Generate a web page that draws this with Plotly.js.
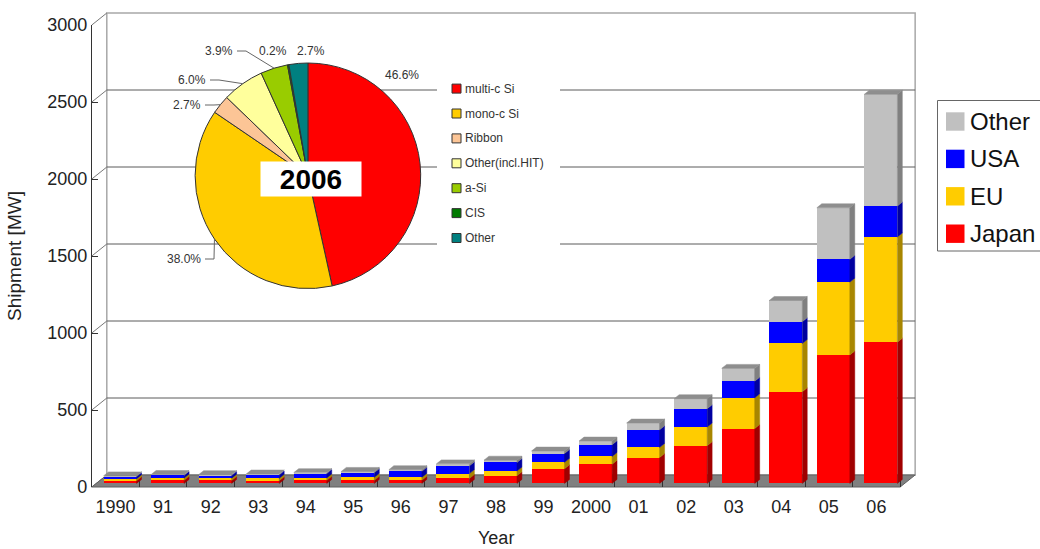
<!DOCTYPE html>
<html><head><meta charset="utf-8">
<script src="https://cdn.plot.ly/plotly-3.0.1.min.js"></script>
<style>html,body{margin:0;padding:0;background:#fff}#chart{width:1040px;height:549px}</style>
</head><body><div id="chart"></div>
<script>
// ---------------- data ----------------
const years = ["1990","91","92","93","94","95","96","97","98","99","2000","01","02","03","04","05","06"];
const japan = [18, 20, 19, 18, 20, 20, 21, 32, 50, 95, 125, 168, 245, 356, 595, 834, 917];
const eu    = [12, 15, 15, 15, 16, 20, 19, 32, 30, 42, 50, 66, 121, 200, 314, 473, 683];
const usa   = [14, 17, 17, 22, 28, 30, 39, 50, 56, 57, 76, 114, 119, 108, 141, 148, 201];
const other = [5, 6, 6, 6, 6, 8, 10, 13, 15, 16, 24, 44, 65, 83, 138, 335, 726];
const seriesNames = ["Japan", "EU", "USA", "Other"];
const yTicks = [0, 500, 1000, 1500, 2000, 2500, 3000];
const xTitle = "Year";
const yTitle = "Shipment [MW]";

const pieYear = "2006";
const pieLabels = ["multi-c Si", "mono-c Si", "Ribbon", "Other(incl.HIT)", "a-Si", "CIS", "Other"];
const pieValues = [46.6, 38.0, 2.7, 6.0, 3.9, 0.2, 2.7];

// ---------------- styles ----------------
const FONT = "Liberation Sans, Arial, sans-serif";
const seriesColors = ["#ff0000", "#ffcc00", "#0000ff", "#c0c0c0"];
const sideColors = ["#a00000", "#a88600", "#0000a0", "#808080"];
const topColor = "#8e8e8e";
const pieColors = ["#ff0000", "#ffcc00", "#fcc596", "#ffff9c", "#99cc00", "#007a00", "#008080"];

// ---------------- geometry (pixels) ----------------
const W = 1040, H = 549;
const X0 = 91.8, CW = 47.55, Y0 = 487, YTOP = 25;
const YMAX = 3000, YS = (Y0 - YTOP) / YMAX;
const XMAX = 16.9;
const DX = 15, DY = 12;           // depth of the 3D floor / wall
const PX = x => x / W, PY = y => 1 - y / H;
const n = years.length;
const xpx = u => X0 + (u + 0.5) * CW;
const ypx = v => Y0 - v * YS;

const f0 = 0.3, f1 = 0.63;
const xs = f0 * DX / CW, ysh = f0 * DY / YS;
const ddx = (f1 - f0) * DX / CW, ddy = (f1 - f0) * DY / YS;
const bw = 0.694;

// ---------------- traces ----------------
const series = [japan, eu, usa, other];
const traces = [];
const sideTraces = [];
const cum = new Array(n).fill(0);
const idx = years.map((_, i) => i);
series.forEach((vals, s) => {
  const base = cum.map(c => c + ysh);
  traces.push({
    type: 'bar', x: idx.map(i => i + xs), y: vals, base: base, width: bw,
    marker: {color: seriesColors[s], line: {width: 0}},
    name: seriesNames[s], showlegend: false, hoverinfo: 'skip'
  });
  const sx = [], sy = [];
  vals.forEach((v, i) => {
    const xr = i + xs + bw / 2, b = base[i], t = b + v;
    sx.push(xr, xr + ddx, xr + ddx, xr, xr, null);
    sy.push(b, b + ddy, t + ddy, t, b, null);
  });
  sideTraces.push({
    type: 'scatter', mode: 'lines', x: sx, y: sy, fill: 'toself',
    fillcolor: sideColors[s], line: {width: 0.5, color: sideColors[s]},
    showlegend: false, hoverinfo: 'skip'
  });
  vals.forEach((v, i) => { cum[i] += v; });
});
const tx = [], ty = [];
cum.forEach((c, i) => {
  const T = c + ysh, xl = i + xs - bw / 2, xr = i + xs + bw / 2;
  tx.push(xl, xr, xr + ddx, xl + ddx, xl, null);
  ty.push(T, T, T + ddy, T + ddy, T, null);
});
sideTraces.push({
  type: 'scatter', mode: 'lines', x: tx, y: ty, fill: 'toself',
  fillcolor: topColor, line: {width: 0.5, color: topColor},
  showlegend: false, hoverinfo: 'skip'
});

// pie
const PCX = 307.9, PCY = 175.8, PR = 112.8;
traces.push({
  type: 'pie', labels: pieLabels, values: pieValues, sort: false,
  direction: 'clockwise', rotation: 0, textinfo: 'none', hoverinfo: 'skip',
  marker: {colors: pieColors, line: {color: '#333', width: 1}},
  domain: {x: [PX(PCX - PR), PX(PCX + PR)], y: [PY(PCY + PR), PY(PCY - PR)]},
  showlegend: false
});

const data = traces.concat(sideTraces);

// ---------------- decorations ----------------
const shapes = [];
const annotations = [];
const xL = X0, xR = xpx(16.5);
// back wall
shapes.push({type: 'rect', xref: 'paper', yref: 'paper', layer: 'below',
  x0: PX(xL + DX), x1: PX(xR + DX), y0: PY(Y0 - DY), y1: PY(ypx(YMAX) - DY),
  line: {color: '#a8a8a8', width: 1.5}, fillcolor: 'rgba(0,0,0,0)'});
yTicks.forEach(v => {
  if (v > 0 && v < YMAX) {
    shapes.push({type: 'line', xref: 'paper', yref: 'paper', layer: 'below',
      x0: PX(xL + DX), x1: PX(xR + DX), y0: PY(ypx(v) - DY), y1: PY(ypx(v) - DY),
      line: {color: '#5a5a5a', width: 1}});
  }
  shapes.push({type: 'line', xref: 'paper', yref: 'paper', layer: 'below',
    x0: PX(xL), x1: PX(xL + DX), y0: PY(ypx(v)), y1: PY(ypx(v) - DY),
    line: {color: '#777', width: 1}});
});
// floor
shapes.push({type: 'path', xref: 'paper', yref: 'paper', layer: 'below',
  path: `M${PX(xL)},${PY(Y0)} L${PX(xR)},${PY(Y0)} L${PX(xR + DX)},${PY(Y0 - DY)} L${PX(xL + DX)},${PY(Y0 - DY)} Z`,
  fillcolor: '#808080', line: {color: '#606060', width: 1}});

// pie labels with leader lines
const tot = pieValues.reduce((a, b) => a + b, 0);
let acc = 0;
const midPts = pieValues.map(v => {
  const a = (acc + v / 2) / tot * 2 * Math.PI; acc += v;
  return [PCX + PR * Math.sin(a), PCY - PR * Math.cos(a)];
});
const pieLabelPos = [
  {x: 383, y: 75, anchor: 'left', leader: false},
  {x: 203, y: 259, anchor: 'right', leader: true},
  {x: 203, y: 105, anchor: 'right', leader: true},
  {x: 208, y: 80, anchor: 'right', leader: true},
  {x: 235, y: 51, anchor: 'right', leader: true},
  {x: 257, y: 51, anchor: 'left', leader: false},
  {x: 295, y: 51, anchor: 'left', leader: false}
];
pieValues.forEach((v, k) => {
  const p = pieLabelPos[k];
  annotations.push({xref: 'paper', yref: 'paper', x: PX(p.x), y: PY(p.y), xanchor: p.anchor, yanchor: 'middle',
    text: v.toFixed(1) + '%', showarrow: false, font: {family: FONT, size: 12, color: '#333'}});
  if (p.leader) {
    const m = midPts[k];
    const ex = p.x + 11;
    shapes.push({type: 'path', xref: 'paper', yref: 'paper', layer: 'above',
      path: `M${PX(p.x + 2)},${PY(p.y)} L${PX(ex)},${PY(p.y)} L${PX(m[0])},${PY(m[1])}`,
      line: {color: '#666', width: 1}});
  }
});
// year box
annotations.push({xref: 'paper', yref: 'paper', x: PX(311), y: PY(178.5), xanchor: 'center', yanchor: 'middle',
  text: '<b>' + pieYear + '</b>', showarrow: false, bgcolor: '#fff', width: 98, height: 32,
  font: {family: FONT, size: 28, color: '#000'}});

// pie legend
shapes.push({type: 'rect', xref: 'paper', yref: 'paper', layer: 'below',
  x0: PX(437), x1: PX(560), y0: PY(252), y1: PY(72), line: {width: 0}, fillcolor: '#fff'});
pieLabels.forEach((lab, k) => {
  const cy = 88.6 + 24.9 * k;
  shapes.push({type: 'rect', xref: 'paper', yref: 'paper', layer: 'above',
    x0: PX(452), x1: PX(461), y0: PY(cy + 4.5), y1: PY(cy - 4.5),
    fillcolor: pieColors[k], line: {color: '#333', width: 1}});
  annotations.push({xref: 'paper', yref: 'paper', x: PX(463), y: PY(cy), xanchor: 'left', yanchor: 'middle',
    text: lab, showarrow: false, font: {family: FONT, size: 12, color: '#333'}});
});

// main legend
shapes.push({type: 'rect', xref: 'paper', yref: 'paper', layer: 'below',
  x0: PX(937.5), x1: PX(1060), y0: PY(251), y1: PY(100.5), line: {color: '#666', width: 1}, fillcolor: '#fff'});
[3, 2, 1, 0].forEach((s, k) => {
  const cy = 121.5 + 37.4 * k;
  shapes.push({type: 'rect', xref: 'paper', yref: 'paper', layer: 'above',
    x0: PX(946), x1: PX(964.5), y0: PY(cy + 9.2), y1: PY(cy - 9.2),
    fillcolor: seriesColors[s], line: {width: 0}});
  annotations.push({xref: 'paper', yref: 'paper', x: PX(968), y: PY(cy), xanchor: 'left', yanchor: 'middle',
    text: seriesNames[s], showarrow: false, font: {family: FONT, size: 24, color: '#111'}});
});

// x title
annotations.push({xref: 'paper', yref: 'paper', x: PX((xL + xR) / 2), y: PY(548.5), xanchor: 'center', yanchor: 'bottom',
  text: xTitle, showarrow: false, borderpad: 0, font: {family: FONT, size: 18, color: '#222'}});

const layout = {
  width: W, height: H,
  margin: {l: 0, r: 0, t: 0, b: 0},
  paper_bgcolor: '#fff', plot_bgcolor: 'rgba(0,0,0,0)',
  font: {family: FONT, color: '#222'},
  barmode: 'overlay', bargap: 0,
  hovermode: false, showlegend: false,
  xaxis: {
    domain: [PX(X0), PX(xpx(XMAX))], range: [-0.5, XMAX], fixedrange: true,
    tickmode: 'array', tickvals: idx, ticktext: years, ticks: '',
    showline: false, showgrid: false, zeroline: false, ticklabelstandoff: 7,
    tickfont: {family: FONT, size: 18, color: '#222'},
    minor: {tickmode: 'linear', tick0: -0.5, dtick: 1, ticks: 'inside', ticklen: 7, tickcolor: '#333', tickwidth: 1, showgrid: false},
    layer: 'below traces'
  },
  yaxis: {
    domain: [PY(Y0), PY(YTOP)], range: [0, YMAX], fixedrange: true,
    tickmode: 'array', tickvals: yTicks, ticks: 'inside', ticklen: 6, tickcolor: '#333',
    showline: true, linecolor: '#333', linewidth: 1, showgrid: false, zeroline: false,
    tickfont: {family: FONT, size: 18, color: '#222'},
    title: {text: yTitle, font: {family: FONT, size: 19, color: '#222'}, standoff: 20},
    layer: 'below traces'
  },
  shapes: shapes,
  annotations: annotations
};

Plotly.newPlot('chart', data, layout, {displayModeBar: false, staticPlot: true});
</script>
</body></html>
